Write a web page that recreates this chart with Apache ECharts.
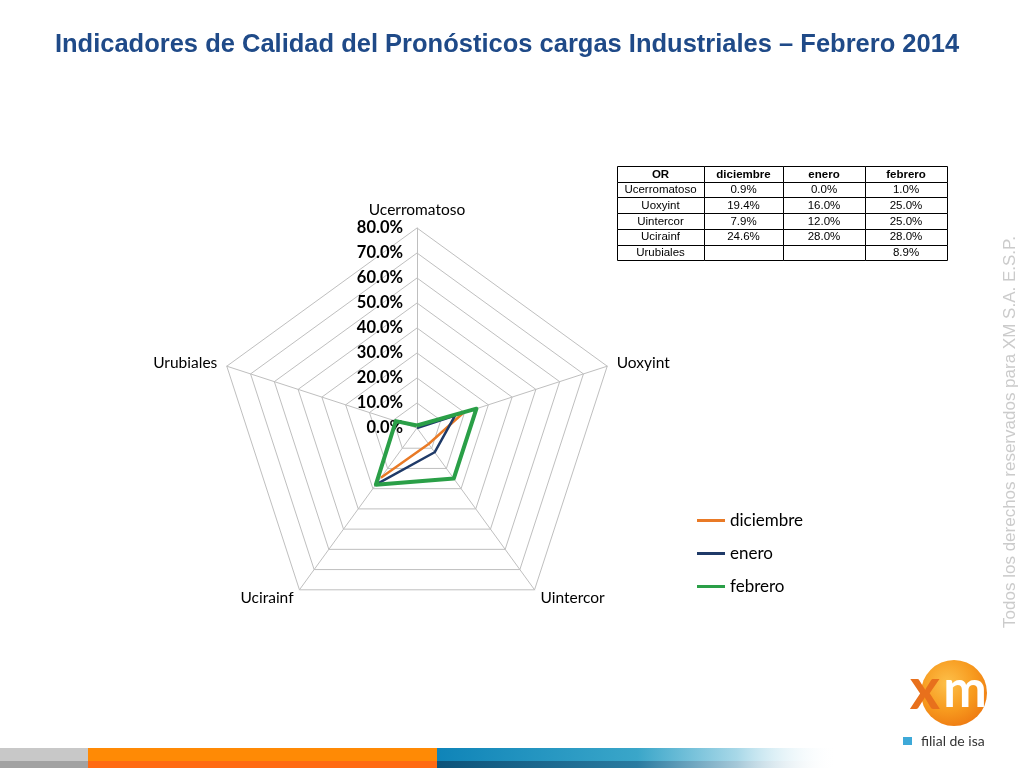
<!DOCTYPE html>
<html>
<head>
<meta charset="utf-8">
<script src="https://cdn.jsdelivr.net/npm/echarts@6.0.0/dist/echarts.min.js"></script>
<style>
html,body{margin:0;padding:0;background:#fff;}
#chart{width:1024px;height:768px;}
</style>
</head>
<body>
<div id="chart"></div>
<script>
// ---- data ----
var titleText = 'Indicadores de Calidad del Pronósticos cargas Industriales – Febrero 2014';
var categories = ['Ucerromatoso', 'Uoxyint', 'Uintercor', 'Ucirainf', 'Urubiales'];
var seriesNames = ['diciembre', 'enero', 'febrero'];
var diciembre = [0.9, 19.4, 7.9, 24.6, null];
var enero = [0.0, 16.0, 12.0, 28.0, null];
var febrero = [1.0, 25.0, 25.0, 28.0, 8.9];
var tableHeader = ['OR', 'diciembre', 'enero', 'febrero'];
var axisMin = 0, axisMax = 80, axisStep = 10;
var watermark = 'Todos los derechos reservados para XM S.A. E.S.P.';

// ---- styles ----
var colors = ['#E97A26', '#1F3A68', '#2A9F47'];
var CX = 417, CY = 428, R = 200;
var labelFont = 'Lato, "Open Sans", sans-serif';

// radar in ECharts runs counter-clockwise; Excel runs clockwise
var radarOrder = [0, 4, 3, 2, 1];

var chart = echarts.init(document.getElementById('chart'), null, {renderer: 'canvas'});

function pct(v) { return (v === null || v === undefined) ? '' : v.toFixed(1) + '%'; }

// ---- table graphics ----
var colX = [617, 704, 783, 865, 947];
var rowTop = 166, rowH = 15.7;
var tableRows = [tableHeader].concat(categories.map(function (c, i) {
  return [c, pct(diciembre[i]), pct(enero[i]), pct(febrero[i])];
}));
var graphics = [];
tableRows.forEach(function (row, r) {
  row.forEach(function (txt, c) {
    graphics.push({
      type: 'rect', z: 10,
      shape: {x: colX[c] + 0.5, y: Math.round(rowTop + r * rowH) + 0.5, width: colX[c + 1] - colX[c], height: Math.round(rowTop + (r + 1) * rowH) - Math.round(rowTop + r * rowH)},
      style: {fill: '#fff', stroke: '#000', lineWidth: 1}
    });
    graphics.push({
      type: 'text', z: 11,
      style: {
        x: (colX[c] + colX[c + 1]) / 2, y: rowTop + r * rowH + rowH / 2 + 0.5,
        text: txt, textAlign: 'center', textVerticalAlign: 'middle',
        font: (r === 0 ? 'bold ' : '') + '11.5px "Liberation Sans", Arial, sans-serif',
        fill: '#000'
      }
    });
  });
});

// title
graphics.push({
  type: 'text', z: 10,
  style: {x: 507, y: 45, text: titleText, textAlign: 'center', textVerticalAlign: 'middle',
    font: 'bold 25.5px "Liberation Sans", Arial, sans-serif', fill: '#1F4A88'}
});
// watermark (vertical)
graphics.push({
  type: 'text', z: 10, x: 1010, y: 432, rotation: Math.PI / 2,
  style: {x: 0, y: 0, text: watermark, textAlign: 'center', textVerticalAlign: 'middle',
    font: '17px "Liberation Sans", Arial, sans-serif', fill: '#cbcbcb'}
});
// bottom bars
graphics.push({type: 'rect', shape: {x: 0, y: 748, width: 88, height: 13}, style: {fill: '#C8C8C8'}});
graphics.push({type: 'rect', shape: {x: 0, y: 761, width: 88, height: 7}, style: {fill: '#A2A2A2'}});
graphics.push({type: 'rect', shape: {x: 88, y: 748, width: 349, height: 13}, style: {fill: '#FF8A05'}});
graphics.push({type: 'rect', shape: {x: 88, y: 761, width: 349, height: 7}, style: {fill: '#FF6A12'}});
graphics.push({type: 'rect', shape: {x: 437, y: 748, width: 400, height: 13}, style: {fill: {type: 'linear', x: 0, y: 0, x2: 1, y2: 0, colorStops: [
  {offset: 0, color: '#0F84B8'}, {offset: 0.5, color: '#3AA6C9'}, {offset: 0.75, color: '#A8D8E8'}, {offset: 1, color: 'rgba(255,255,255,0)'}]}}});
graphics.push({type: 'rect', shape: {x: 437, y: 761, width: 400, height: 7}, style: {fill: {type: 'linear', x: 0, y: 0, x2: 1, y2: 0, colorStops: [
  {offset: 0, color: '#0C5279'}, {offset: 0.5, color: '#2A7BA0'}, {offset: 0.75, color: '#A5C8D8'}, {offset: 1, color: 'rgba(255,255,255,0)'}]}}});
// logo
graphics.push({type: 'circle', shape: {cx: 954, cy: 693, r: 33}, style: {fill: {type: 'radial', x: 0.4, y: 0.35, r: 0.7, colorStops: [
  {offset: 0, color: '#FDC04A'}, {offset: 0.6, color: '#F79A1E'}, {offset: 1, color: '#EE7A12'}]}}});
graphics.push({type: 'text', style: {x: 925, y: 690, text: 'x', textAlign: 'center', textVerticalAlign: 'middle',
  font: 'bold 58px Lato, sans-serif', fill: '#E8701C'}});
graphics.push({type: 'text', style: {x: 965, y: 690, text: 'm', textAlign: 'center', textVerticalAlign: 'middle',
  font: 'bold 52px Lato, sans-serif', fill: '#ffffff'}});
graphics.push({type: 'rect', shape: {x: 903, y: 737, width: 9, height: 8}, style: {fill: '#3EA9D8'}});
graphics.push({type: 'text', style: {x: 921, y: 741, text: 'filial de isa', textAlign: 'left', textVerticalAlign: 'middle',
  font: '14px Lato, sans-serif', fill: '#333'}});

var option = {
  animation: false,
  backgroundColor: '#fff',
  color: colors,
  legend: {
    data: seriesNames,
    orient: 'vertical',
    left: 697, top: 512, padding: 0,
    icon: 'rect', itemWidth: 28, itemHeight: 3, itemGap: 16,
    textStyle: {fontFamily: labelFont, fontSize: 17, color: '#000', lineHeight: 17}
  },
  radar: {
    center: [CX, CY], radius: R, startAngle: 90, splitNumber: 8, shape: 'polygon',
    indicator: radarOrder.map(function (i) { return {name: categories[i], min: axisMin, max: axisMax}; }),
    nameGap: 10,
    axisName: {color: '#000', fontFamily: labelFont, fontSize: 15.5},
    splitLine: {lineStyle: {color: '#BFBFBF', width: 1}},
    splitArea: {show: false},
    axisLine: {lineStyle: {color: '#BFBFBF', width: 1}},
    axisTick: {show: false},
    axisLabel: {show: false}
  },
  polar: {center: [CX, CY], radius: R},
  angleAxis: {type: 'category', data: categories, startAngle: 90, clockwise: true, boundaryGap: false,
    axisLine: {show: false}, axisTick: {show: false}, axisLabel: {show: false}, splitLine: {show: false}},
  radiusAxis: {type: 'value', min: axisMin, max: axisMax, interval: axisStep,
    axisLine: {show: false}, axisTick: {show: false}, splitLine: {show: false},
    axisLabel: {show: true, formatter: function (v) { return v.toFixed(1) + '%'; }, fontFamily: labelFont,
      fontWeight: 'bold', fontSize: 16.5, color: '#000', margin: 14}},
  graphic: graphics,
  series: [
    {name: seriesNames[0], type: 'line', coordinateSystem: 'polar', data: diciembre, connectNulls: false,
      symbol: 'none', itemStyle: {color: colors[0]}, lineStyle: {color: colors[0], width: 2.5}, z: 3},
    {name: seriesNames[1], type: 'line', coordinateSystem: 'polar', data: enero, connectNulls: false,
      symbol: 'none', itemStyle: {color: colors[1]}, lineStyle: {color: colors[1], width: 2.5}, z: 4},
    {name: seriesNames[2], type: 'radar', symbol: 'none', z: 5,
      itemStyle: {color: colors[2]}, lineStyle: {color: colors[2], width: 4},
      data: [{name: seriesNames[2], value: radarOrder.map(function (i) { return febrero[i]; })}]}
  ]
};
chart.setOption(option);
</script>
</body>
</html>
